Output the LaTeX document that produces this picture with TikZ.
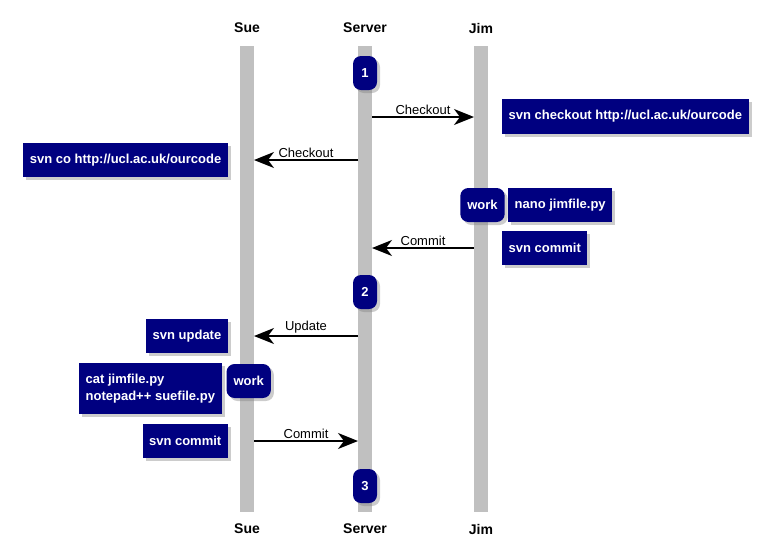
\documentclass[tikz,border=0pt]{standalone}
\usepackage{fontspec}
\setmainfont{Liberation Sans}
\usetikzlibrary{arrows.meta,shadows}
\definecolor{notenavy}{RGB}{0,0,128}
\definecolor{lifegray}{RGB}{192,192,192}
\begin{document}
\begin{tikzpicture}[x=1pt,y=-1pt,
    actor/.style={font=\fontsize{14}{16}\selectfont\bfseries},
    lifeline/.style={fill=lifegray},
    note/.style={fill=notenavy,text=white,font=\fontsize{13}{16.7}\selectfont\bfseries,
        minimum height=34pt,inner xsep=6.5pt,inner ysep=11pt,
        drop shadow={shadow xshift=3pt,shadow yshift=-3pt,opacity=0.4}},
    state/.style={note,rounded corners=8pt,minimum width=24pt,inner xsep=7pt},
    msg/.style={line width=1.6pt,-{Stealth[length=20pt,width=16pt,inset=6pt]}},
    msglabel/.style={font=\fontsize{13}{15}\selectfont,above,inner sep=2pt}]
    \useasboundingbox (0,0) rectangle (768,555);
    \fill [lifeline] (240,46) rectangle (254,512);
    \fill [lifeline] (358,46) rectangle (372,512);
    \fill [lifeline] (474,46) rectangle (488,512);
    \node [actor] (suetop) at (247,28) {Sue};
    \node [actor] (srvtop) at (365,28) {Server};
    \node [actor] (jimtop) at (481,28) {Jim};
    \node [actor] (suebot) at (247,529) {Sue};
    \node [actor] (srvbot) at (365,529) {Server};
    \node [actor] (jimbot) at (481,529) {Jim};
    \coordinate (co1srv) at (372,117);
    \coordinate (co1jim) at (474,117);
    \coordinate (co2srv) at (358,160);
    \coordinate (co2sue) at (254,160);
    \coordinate (ci1jim) at (474,248);
    \coordinate (ci1srv) at (372,248);
    \coordinate (upsrv) at (358,336);
    \coordinate (upsue) at (254,336);
    \coordinate (ci2sue) at (254,441);
    \coordinate (ci2srv) at (358,441);
    \draw [msg] (co1srv) -- node [msglabel] {Checkout} (co1jim);
    \draw [msg] (co2srv) -- node [msglabel] {Checkout} (co2sue);
    \draw [msg] (ci1jim) -- node [msglabel] {Commit} (ci1srv);
    \draw [msg] (upsrv) -- node [msglabel] {Update} (upsue);
    \draw [msg] (ci2sue) -- node [msglabel] {Commit} (ci2srv);
    \node [state] (rev1) at (365,73) {1};
    \node [note,anchor=west] (jimco) at (502,116.5) {svn checkout http://ucl.ac.uk/ourcode};
    \node [note,anchor=east] (sueco) at (228,160) {svn co http://ucl.ac.uk/ourcode};
    \node [state] (jimwork) at (482.5,205) {work};
    \node [note,anchor=west] (jimnano) at (508,205) {nano jimfile.py};
    \node [note,anchor=west] (jimci) at (502,248) {svn commit};
    \node [state] (rev2) at (365,292) {2};
    \node [note,anchor=east] (sueup) at (228,336) {svn update};
    \node [state] (suework) at (248.7,381) {work};
    \node [note,anchor=east,align=left] (sueedit) at (221.7,388.7) {cat jimfile.py\\notepad++ suefile.py};
    \node [note,anchor=east] (sueci) at (228,441) {svn commit};
    \node [state] (rev3) at (365,486) {3};
\end{tikzpicture}
\end{document}
